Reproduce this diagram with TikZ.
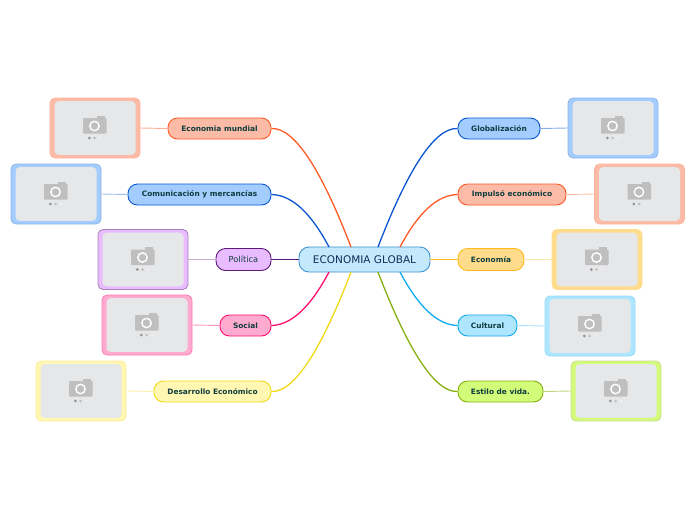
\documentclass[tikz,border=0pt]{standalone}
\usepackage{fontspec}
\setmainfont{DejaVu Sans}
\usetikzlibrary{calc}
\definecolor{inkgreen}{HTML}{0F3D3E}
\definecolor{inknavy}{HTML}{10305A}
\definecolor{photogray}{HTML}{E6E7E9}
\definecolor{camgray}{HTML}{BFBFBF}
\definecolor{softsky}{HTML}{C4E9FD}
\definecolor{linesky}{HTML}{3E94D0}
\definecolor{softred}{HTML}{FBBBA6}
\definecolor{linered}{HTML}{FF5A26}
\definecolor{softblue}{HTML}{A3CCFF}
\definecolor{lineblue}{HTML}{0A56D0}
\definecolor{softpurple}{HTML}{E9BBFF}
\definecolor{linepurple}{HTML}{5E1A78}
\definecolor{softpink}{HTML}{FFABD0}
\definecolor{linepink}{HTML}{FF0F6E}
\definecolor{softyellow}{HTML}{FFF7B2}
\definecolor{lineyellow}{HTML}{EFD915}
\definecolor{softorange}{HTML}{FFDC8C}
\definecolor{lineorange}{HTML}{FFB91A}
\definecolor{softcyan}{HTML}{AEE6FF}
\definecolor{linecyan}{HTML}{0FAAEE}
\definecolor{softlime}{HTML}{D3FB7A}
\definecolor{linelime}{HTML}{86B010}
\tikzset{
  central/.style={draw=linesky, fill=softsky, rounded corners=10pt, line width=.9pt, minimum width=131pt, minimum height=25pt, inner sep=0pt, text=inknavy, font=\fontsize{10.5}{12}\selectfont},
  topic/.style={rounded corners=9.5pt, line width=.9pt, minimum height=21pt, inner sep=0pt, text=inkgreen, font=\fontsize{7.4}{8}\selectfont\bfseries},
  photo/.style={rounded corners=5pt, line width=.8pt, minimum width=90pt, minimum height=60pt, inner sep=0pt},
  branch/.style={line width=1.3pt},
  twig/.style={line width=.9pt},
}
\newcommand{\camicon}[1]{%
  \fill[photogray, rounded corners=4pt] ($(#1)+(-40.5,-26.8)$) rectangle ($(#1)+(40.5,26.8)$);
  \fill[camgray, rounded corners=.8pt] ($(#1)+(-12,-10)$) rectangle ($(#1)+(11.5,5.5)$);
  \fill[camgray] ($(#1)+(2,-12.5)$) rectangle ($(#1)+(10,-9)$);
  \draw[white, line width=1.4pt] ($(#1)+(-.5,-2)$) circle (4.7pt);
  \fill[gray!85] ($(#1)+(-5.7,10)$) circle (1.5pt);
  \fill[gray!50] ($(#1)+(-.3,10)$) circle (1.5pt);
  \fill[gray!12] ($(#1)+(5,10)$) circle (1.5pt);
}
\begin{document}
\begin{tikzpicture}[x=1pt, y=-1pt]
  \useasboundingbox (0,0) rectangle (696,520);
  % centre
  \node[central] (eco) at (364.5,259.5) {ECONOMIA GLOBAL};
  \coordinate (ecoNa) at (329,247);
  \coordinate (ecoNb) at (351,247);
  \coordinate (ecoNc) at (378,247);
  \coordinate (ecoNd) at (400,247);
  \coordinate (ecoSa) at (329,272);
  \coordinate (ecoSb) at (351,272);
  \coordinate (ecoSc) at (378,272);
  \coordinate (ecoSd) at (400,272);
  % left topics
  \node[topic, draw=linered, fill=softred, minimum width=103pt] (mundial) at (219.5,128.5) {Economia mundial};
  \node[topic, draw=lineblue, fill=softblue, minimum width=143pt] (comun) at (199.5,194.5) {Comunicación y mercancías};
  \node[topic, draw=linepurple, fill=softpurple, minimum width=55pt, minimum height=22pt, font=\fontsize{8.3}{8}\selectfont] (politica) at (243.5,259.5) {Política};
  \node[topic, draw=linepink, fill=softpink, minimum width=51pt] (social) at (245.5,325.5) {Social};
  \node[topic, draw=lineyellow, fill=softyellow, minimum width=117pt] (desarrollo) at (212.5,391.5) {Desarrollo Económico};
  % right topics
  \node[topic, draw=lineblue, fill=softblue, minimum width=82pt] (global) at (499,128.5) {Globalización};
  \node[topic, draw=linered, fill=softred, minimum width=108pt] (impulso) at (512,194.5) {Impulsó económico};
  \node[topic, draw=lineorange, fill=softorange, minimum width=66pt, minimum height=22pt] (economia) at (491,259.5) {Economía};
  \node[topic, draw=linecyan, fill=softcyan, minimum width=59pt] (cultural) at (487.5,325.5) {Cultural};
  \node[topic, draw=linelime, fill=softlime, minimum width=85pt] (estilo) at (500.5,391.5) {Estilo de vida.};
  % photos
  \node[photo, draw=linered!45, fill=softred] (fotoA) at (95,128) {};
  \node[photo, draw=lineblue!45, fill=softblue] (fotoB) at (56,194) {};
  \node[photo, draw=linepurple!55, fill=softpurple] (fotoC) at (143,259.5) {};
  \node[photo, draw=linepink!55, fill=softpink] (fotoD) at (147,325) {};
  \node[photo, draw=lineyellow!45, fill=softyellow] (fotoE) at (81,391) {};
  \node[photo, draw=lineblue!45, fill=softblue] (fotoF) at (613,128) {};
  \node[photo, draw=linered!45, fill=softred] (fotoG) at (639.5,194) {};
  \node[photo, draw=lineorange!50, fill=softorange] (fotoH) at (597,259.5) {};
  \node[photo, draw=linecyan!45, fill=softcyan] (fotoI) at (590,326) {};
  \node[photo, draw=linelime!45, fill=softlime] (fotoJ) at (616,391) {};
  \foreach \f in {fotoA,fotoB,fotoC,fotoD,fotoE,fotoF,fotoG,fotoH,fotoI,fotoJ}
    {\camicon{\f}}
  % branches
  \draw[branch, linered] (ecoNb) .. controls (320.3,167) and (293.7,127.5) .. (mundial.east);
  \draw[branch, lineblue] (ecoNa) .. controls (311,213) and (292,195) .. (comun.east);
  \draw[branch, linepurple] (eco.west) -- (politica.east);
  \draw[branch, linepink] (ecoSa) .. controls (311,306) and (292,325) .. (social.east);
  \draw[branch, lineyellow] (ecoSb) .. controls (320.3,352) and (293.7,392.5) .. (desarrollo.east);
  \draw[branch, lineblue] (ecoNc) .. controls (408.7,167) and (435.3,127.5) .. (global.west);
  \draw[branch, linered] (ecoNd) .. controls (418,213) and (437,195) .. (impulso.west);
  \draw[branch, lineorange] (eco.east) -- (economia.west);
  \draw[branch, linecyan] (ecoSd) .. controls (418,306) and (437,325) .. (cultural.west);
  \draw[branch, linelime] (ecoSc) .. controls (408.7,352) and (435.3,392.5) .. (estilo.west);
  % twigs
  \draw[twig, linered!50] (mundial.west) -- (fotoA.east);
  \draw[twig, lineblue!40] (comun.west) -- (fotoB.east);
  \draw[twig, linepurple!35] (politica.west) -- (fotoC.east);
  \draw[twig, linepink!45] (social.west) -- (fotoD.east);
  \draw[twig, lineyellow!35] (desarrollo.west) -- (fotoE.east);
  \draw[twig, lineblue!50] (global.east) -- (fotoF.west);
  \draw[twig, linered!40] (impulso.east) -- (fotoG.west);
  \draw[twig, lineorange!35] (economia.east) -- (fotoH.west);
  \draw[twig, linecyan!35] (cultural.east) -- (fotoI.west);
  \draw[twig, linelime!55] (estilo.east) -- (fotoJ.west);
\end{tikzpicture}
\end{document}
